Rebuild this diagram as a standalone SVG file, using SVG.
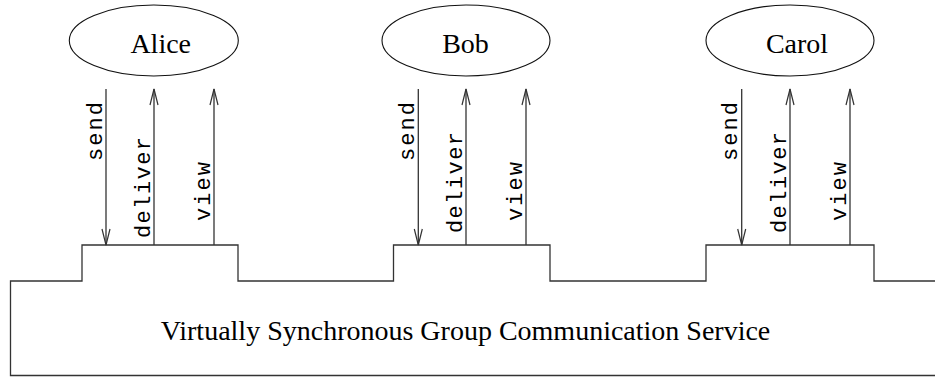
<svg xmlns="http://www.w3.org/2000/svg" width="935" height="377" viewBox="0 0 935 377">
<style>
.shape{fill:none;stroke:#333;stroke-width:1.3}
.ell{fill:#fff;stroke:#111;stroke-width:1.1}
.name{font-family:"Liberation Serif","Times New Roman",serif;font-size:28px;fill:#000}
.lbl{font-family:"Liberation Mono","Courier New",monospace;font-size:22px;fill:#000}
.conn{fill:none;stroke:#333;stroke-width:1.3}
</style>
<defs>
<marker id="ah" markerUnits="userSpaceOnUse" markerWidth="20" markerHeight="12" viewBox="-17 -6 18 12" refX="0" refY="0" orient="auto">
<path d="M-16,-4 L0,0 L-16,4" fill="none" stroke="#333" stroke-width="1.2"/>
</marker>
</defs>
<rect width="935" height="377" fill="#fff"/>
<g id="service">
<path class="shape" d="M937,375.5 H10.5 V281 H82 V245 H238 V281 H393.5 V245 H550 V281 H706 V245 H874 V281 H937"/>
<text class="name" x="465.5" y="340" text-anchor="middle" font-size="28.5">Virtually Synchronous Group Communication Service</text>
</g>
<g id="alice">
<ellipse class="ell" cx="153.8" cy="40.5" rx="84.5" ry="35.5"/>
<text class="name" x="160.7" y="53.3" text-anchor="middle">Alice</text>
</g>
<g id="bob">
<ellipse class="ell" cx="466" cy="40.5" rx="84" ry="35.5"/>
<text class="name" x="465.5" y="53.3" text-anchor="middle">Bob</text>
</g>
<g id="carol">
<ellipse class="ell" cx="790" cy="40.5" rx="84" ry="35.5"/>
<text class="name" x="797" y="53.3" text-anchor="middle">Carol</text>
</g>
<g id="connectors">
<line class="conn" x1="106" y1="89" x2="106" y2="245" marker-end="url(#ah)"/>
<line class="conn" x1="154" y1="245" x2="154" y2="89" marker-end="url(#ah)"/>
<line class="conn" x1="214" y1="245" x2="214" y2="89" marker-end="url(#ah)"/>
<line class="conn" x1="418.3" y1="89" x2="418.3" y2="245" marker-end="url(#ah)"/>
<line class="conn" x1="466" y1="245" x2="466" y2="89" marker-end="url(#ah)"/>
<line class="conn" x1="526" y1="245" x2="526" y2="89" marker-end="url(#ah)"/>
<line class="conn" x1="741.7" y1="89" x2="741.7" y2="245" marker-end="url(#ah)"/>
<line class="conn" x1="790" y1="245" x2="790" y2="89" marker-end="url(#ah)"/>
<line class="conn" x1="850" y1="245" x2="850" y2="89" marker-end="url(#ah)"/>
<text class="lbl" transform="translate(101.5,161) rotate(-90)" textLength="59" lengthAdjust="spacing">send</text>
<text class="lbl" transform="translate(150,238) rotate(-90)" textLength="101" lengthAdjust="spacing">deliver</text>
<text class="lbl" transform="translate(210,221) rotate(-90)" textLength="59" lengthAdjust="spacing">view</text>
<text class="lbl" transform="translate(413.8,161) rotate(-90)" textLength="59" lengthAdjust="spacing">send</text>
<text class="lbl" transform="translate(462,233) rotate(-90)" textLength="101" lengthAdjust="spacing">deliver</text>
<text class="lbl" transform="translate(522,221) rotate(-90)" textLength="59" lengthAdjust="spacing">view</text>
<text class="lbl" transform="translate(737.2,161) rotate(-90)" textLength="59" lengthAdjust="spacing">send</text>
<text class="lbl" transform="translate(786,233) rotate(-90)" textLength="101" lengthAdjust="spacing">deliver</text>
<text class="lbl" transform="translate(846,221) rotate(-90)" textLength="59" lengthAdjust="spacing">view</text>
</g>
</svg>
